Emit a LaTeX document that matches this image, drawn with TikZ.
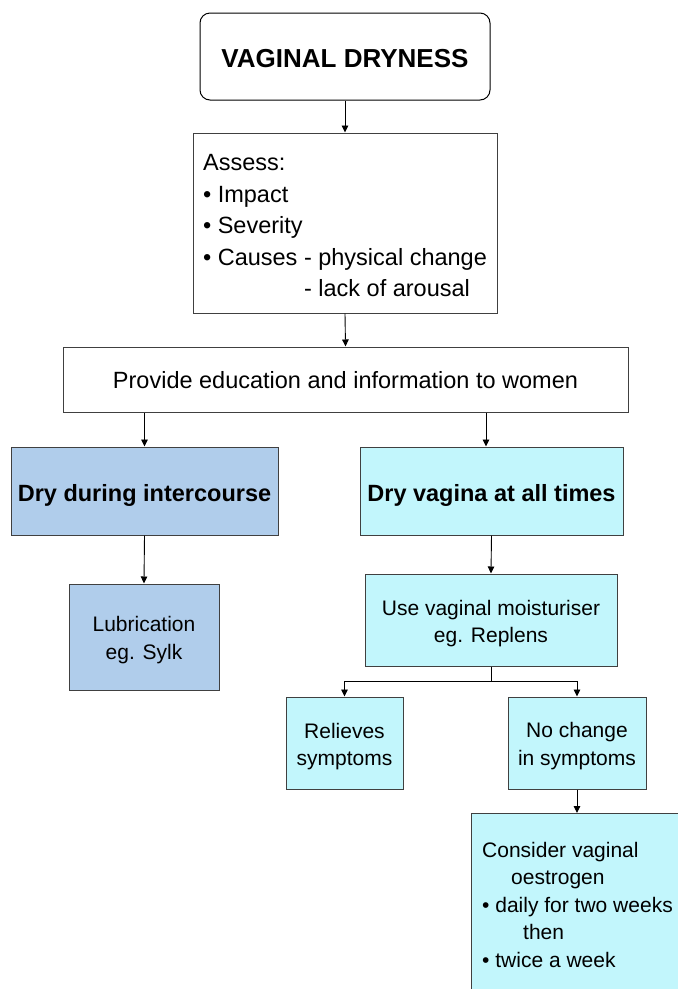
\documentclass[tikz,border=0pt]{standalone}
\usepackage{fontspec}
\setmainfont{Liberation Sans}
\usetikzlibrary{arrows.meta}
\definecolor{bluebox}{HTML}{B0CDEB}
\definecolor{cyanbox}{HTML}{C2F6FC}
\definecolor{edgegray}{HTML}{404040}
\newcommand\lowerby[1]{\rule{0pt}{#1}}
\begin{document}
\begin{tikzpicture}[x=1pt,y=-1pt,
 box/.style={draw=edgegray, line width=1pt, inner sep=0pt, align=center},
 big/.style={font=\fontsize{23.5}{31.5}\selectfont},
 bigbold/.style={font=\fontsize{23.5}{31.5}\selectfont\bfseries},
 small/.style={font=\fontsize{21}{27.5}\selectfont},
 arr/.style={-{Triangle[length=7pt,width=6.5pt]}, line width=0.9pt}]
\useasboundingbox (0,0) rectangle (678,989);
\fill[white] (0,0) rectangle (678,989);
\node[box, draw=black, rounded corners=10pt, minimum width=290, minimum height=87,
  font=\fontsize{26}{30}\selectfont\bfseries] (top) at (345,56.5) {\lowerby{23pt}VAGINAL DRYNESS};
\node[box, minimum width=304, minimum height=180, big, align=left] (assess) at (345,223)
  {\lowerby{21.5pt}Assess:\\• Impact\\• Severity\\• Causes - physical change\\\phantom{• Causes }- lack of arousal};
\node[box, minimum width=565, minimum height=65, big] (prov) at (345.5,379.5)
  {\lowerby{19pt}Provide education and information to women};
\node[box, fill=bluebox, minimum width=267, minimum height=88, bigbold] (dd) at (144.5,491)
  {\lowerby{25pt}Dry during intercourse};
\node[box, fill=cyanbox, minimum width=263, minimum height=88, bigbold] (dv) at (491.5,491)
  {\lowerby{25pt}Dry vagina at all times};
\node[box, fill=bluebox, minimum width=150, minimum height=106, small] (lub) at (144,637)
  {\lowerby{21.5pt}Lubrication\\eg. Sylk};
\node[box, fill=cyanbox, minimum width=252, minimum height=92, small] (moist) at (491,620)
  {\lowerby{22.5pt}Use vaginal moisturiser\\eg. Replens};
\node[box, fill=cyanbox, minimum width=117, minimum height=92, small] (rel) at (344.5,743)
  {\lowerby{22.5pt}Relieves\\symptoms};
\node[box, fill=cyanbox, minimum width=138, minimum height=92, small] (noch) at (577,743)
  {\lowerby{21.5pt}No change\\in symptoms};
\node[box, fill=cyanbox, minimum width=240, minimum height=200, anchor=north west] (cons) at (471,813) {};
\node[small, align=left, anchor=north west, inner sep=0pt] (constext) at (482,842)
  {Consider vaginal\\\hspace*{29pt}oestrogen\\• daily for two weeks\\\hspace*{41pt}then\\• twice a week};
\coordinate (split) at (491,681);
\draw[arr] (top.south) -- (assess.north);
\draw[arr] (assess.south) -- (prov.north);
\draw[arr] (dd.north |- prov.south) -- (dd.north);
\draw[arr] ([xshift=-5.5pt]dv.north |- prov.south) -- ([xshift=-5.5pt]dv.north);
\draw[arr] (dd.south) -- (lub.north);
\draw[arr] (dv.south) -- (moist.north);
\draw[line width=0.9pt] (moist.south) -- (split);
\draw[arr] (split) -| (rel.north);
\draw[arr] (split) -| (noch.north);
\draw[arr] (noch.south) -- (cons.north -| noch.south);
\end{tikzpicture}
\end{document}
